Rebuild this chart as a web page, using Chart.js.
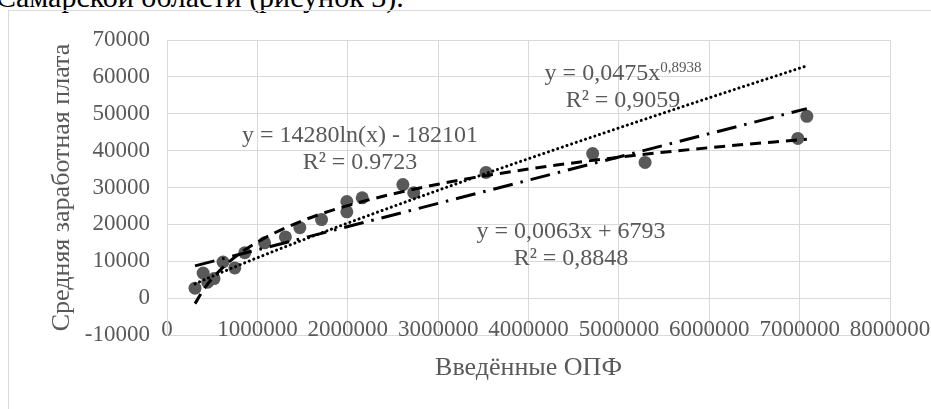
<!DOCTYPE html>
<html lang="ru">
<head>
<meta charset="utf-8">
<script src="https://cdn.jsdelivr.net/npm/chart.js@4.4.1/dist/chart.umd.min.js"></script>
<style>
  html, body { margin: 0; padding: 0; background: #fff; }
  body { width: 931px; height: 409px; position: relative; overflow: hidden; }
  .caption { position: absolute; left: -4px; top: -18px; font: 30px 'Liberation Serif', serif; color: #000; white-space: nowrap; line-height: 1; }
  .frame { position: absolute; left: 8px; top: 10px; width: 940px; height: 420px; border: 1px solid #d9d9d9; }
  #chart { position: absolute; left: 0; top: 0; }
</style>
</head>
<body>
<div class="caption">Самарской области (рисунок 3).</div>
<div class="frame"></div>
<canvas id="chart" width="931" height="409"></canvas>
<script>
// исходные точки: введённые ОПФ / средняя заработная плата
const opfX = [310000, 400000, 450000, 520000, 620000, 750000, 860000, 1080000, 1310000, 1470000,
              1710000, 1990000, 1990000, 2160000, 2610000, 2730000, 3530000, 4710000, 5290000, 6980000, 7080000];
const salaryY = [2700, 6800, 4300, 5300, 9800, 8200, 12300, 15000, 16600, 19100,
                 21300, 26200, 23400, 27200, 30800, 28600, 34100, 39200, 36800, 43300, 49300];

// линии тренда
const trendX = [310000, 400000, 500000, 700000, 1000000, 1500000, 2000000, 3000000, 4000000, 5000000, 6000000, 7080000];
const logTrendY = [-1500, 2100, 5300, 10100, 15200, 21000, 25100, 30900, 35000, 38200, 40800, 43100];
const powTrendY = [3850, 4830, 5900, 7960, 10950, 15740, 20350, 29240, 37810, 46150, 54330, 62990];
const linTrendX = [310000, 7080000];
const linTrendY = [8750, 51400];

const xTicks = [0, 1000000, 2000000, 3000000, 4000000, 5000000, 6000000, 7000000, 8000000];
const yTicks = [-10000, 0, 10000, 20000, 30000, 40000, 50000, 60000, 70000];

const EQUATIONS = [
    { lines: [['y = 0,0475x', '0,8938'], ['R² = 0,9059']], x: 623, y: 74 },
    { lines: [['y = 14280ln(x) - 182101'], ['R² = 0.9723']], x: 360, y: 136 },
    { lines: [['y = 0,0063x + 6793'], ['R² = 0,8848']], x: 571, y: 232 },
];

const TEXT = '#595959';
const GRID = '#d9d9d9';
const SERIF = "'Liberation Serif', 'Times New Roman', serif";

function pts(xs, ys) {
    return xs.map((x, i) => ({ x: x, y: ys[i] }));
}

const equationPlugin = {
    id: 'equations',
    afterDatasetsDraw(chart) {
        const ctx = chart.ctx;
        ctx.save();
        ctx.fillStyle = TEXT;
        ctx.textBaseline = 'middle';
        ctx.textAlign = 'left';
        EQUATIONS.forEach(eq => {
            eq.lines.forEach((line, i) => {
                const y = eq.y + i * 27;
                ctx.font = '24px ' + SERIF;
                const mainW = ctx.measureText(line[0]).width;
                let supW = 0;
                if (line[1]) {
                    ctx.font = '15px ' + SERIF;
                    supW = ctx.measureText(line[1]).width;
                }
                const x = eq.x - (mainW + supW) / 2;
                ctx.font = '24px ' + SERIF;
                ctx.fillText(line[0], x, y);
                if (line[1]) {
                    ctx.font = '15px ' + SERIF;
                    ctx.fillText(line[1], x + mainW, y - 6);
                }
            });
        });
        ctx.restore();
    },
};

const trendBase = {
    showLine: true,
    pointRadius: 0,
    pointHoverRadius: 0,
    borderColor: '#000',
    borderWidth: 3,
    fill: false,
};

new Chart(document.getElementById('chart'), {
    type: 'scatter',
    data: {
        datasets: [
            Object.assign({}, trendBase, {
                label: 'Степенная',
                data: pts(trendX, powTrendY),
                borderDash: [0.1, 4.8],
                borderCapStyle: 'round',
                cubicInterpolationMode: 'monotone',
            }),
            Object.assign({}, trendBase, {
                label: 'Логарифмическая',
                data: pts(trendX, logTrendY),
                borderDash: [11, 7],
                cubicInterpolationMode: 'monotone',
            }),
            Object.assign({}, trendBase, {
                label: 'Линейная',
                data: pts(linTrendX, linTrendY),
                borderDash: [20, 8, 2.5, 8],
            }),
            {
                label: 'Средняя заработная плата',
                data: pts(opfX, salaryY),
                pointRadius: 6.5,
                pointBackgroundColor: '#595959',
                pointBorderWidth: 0,
                showLine: false,
            },
        ],
    },
    options: {
        responsive: false,
        animation: false,
        layout: { padding: { top: 40, right: 41, bottom: 0, left: 0 } },
        plugins: {
            legend: { display: false },
            tooltip: { enabled: false },
        },
        scales: {
            x: {
                type: 'linear',
                min: 0,
                max: 8000000,
                afterBuildTicks: s => { s.ticks = xTicks.map(v => ({ value: v })); },
                grid: { color: GRID, lineWidth: 1, drawTicks: false },
                border: { color: GRID },
                ticks: {
                    mirror: true,
                    padding: -9,
                    color: TEXT,
                    font: { family: SERIF, size: 23 },
                    maxRotation: 0,
                    autoSkip: false,
                    callback: v => String(v),
                },
                title: {
                    display: true,
                    text: 'Введённые ОПФ',
                    color: TEXT,
                    font: { family: SERIF, size: 26 },
                    padding: { top: 0, bottom: 25 },
                },
                afterFit: s => {
                    s.height = 74;
                    s.paddingLeft = 0;
                    s.paddingRight = 0;
                },
            },
            y: {
                type: 'linear',
                min: -10000,
                max: 70000,
                afterBuildTicks: s => { s.ticks = yTicks.map(v => ({ value: v })); },
                grid: { color: GRID, lineWidth: 1, drawTicks: false },
                border: { color: GRID },
                ticks: {
                    padding: 17,
                    color: TEXT,
                    font: { family: SERIF, size: 23 },
                    callback: v => String(v),
                },
                title: {
                    display: true,
                    text: 'Средняя заработная плата',
                    color: TEXT,
                    font: { family: SERIF, size: 26 },
                    padding: { top: 47, bottom: 0 },
                },
                afterFit: s => {
                    s.width = 167;
                    s.paddingTop = 0;
                    s.paddingBottom = 0;
                },
            },
        },
    },
    plugins: [equationPlugin],
});
</script>
</body>
</html>
